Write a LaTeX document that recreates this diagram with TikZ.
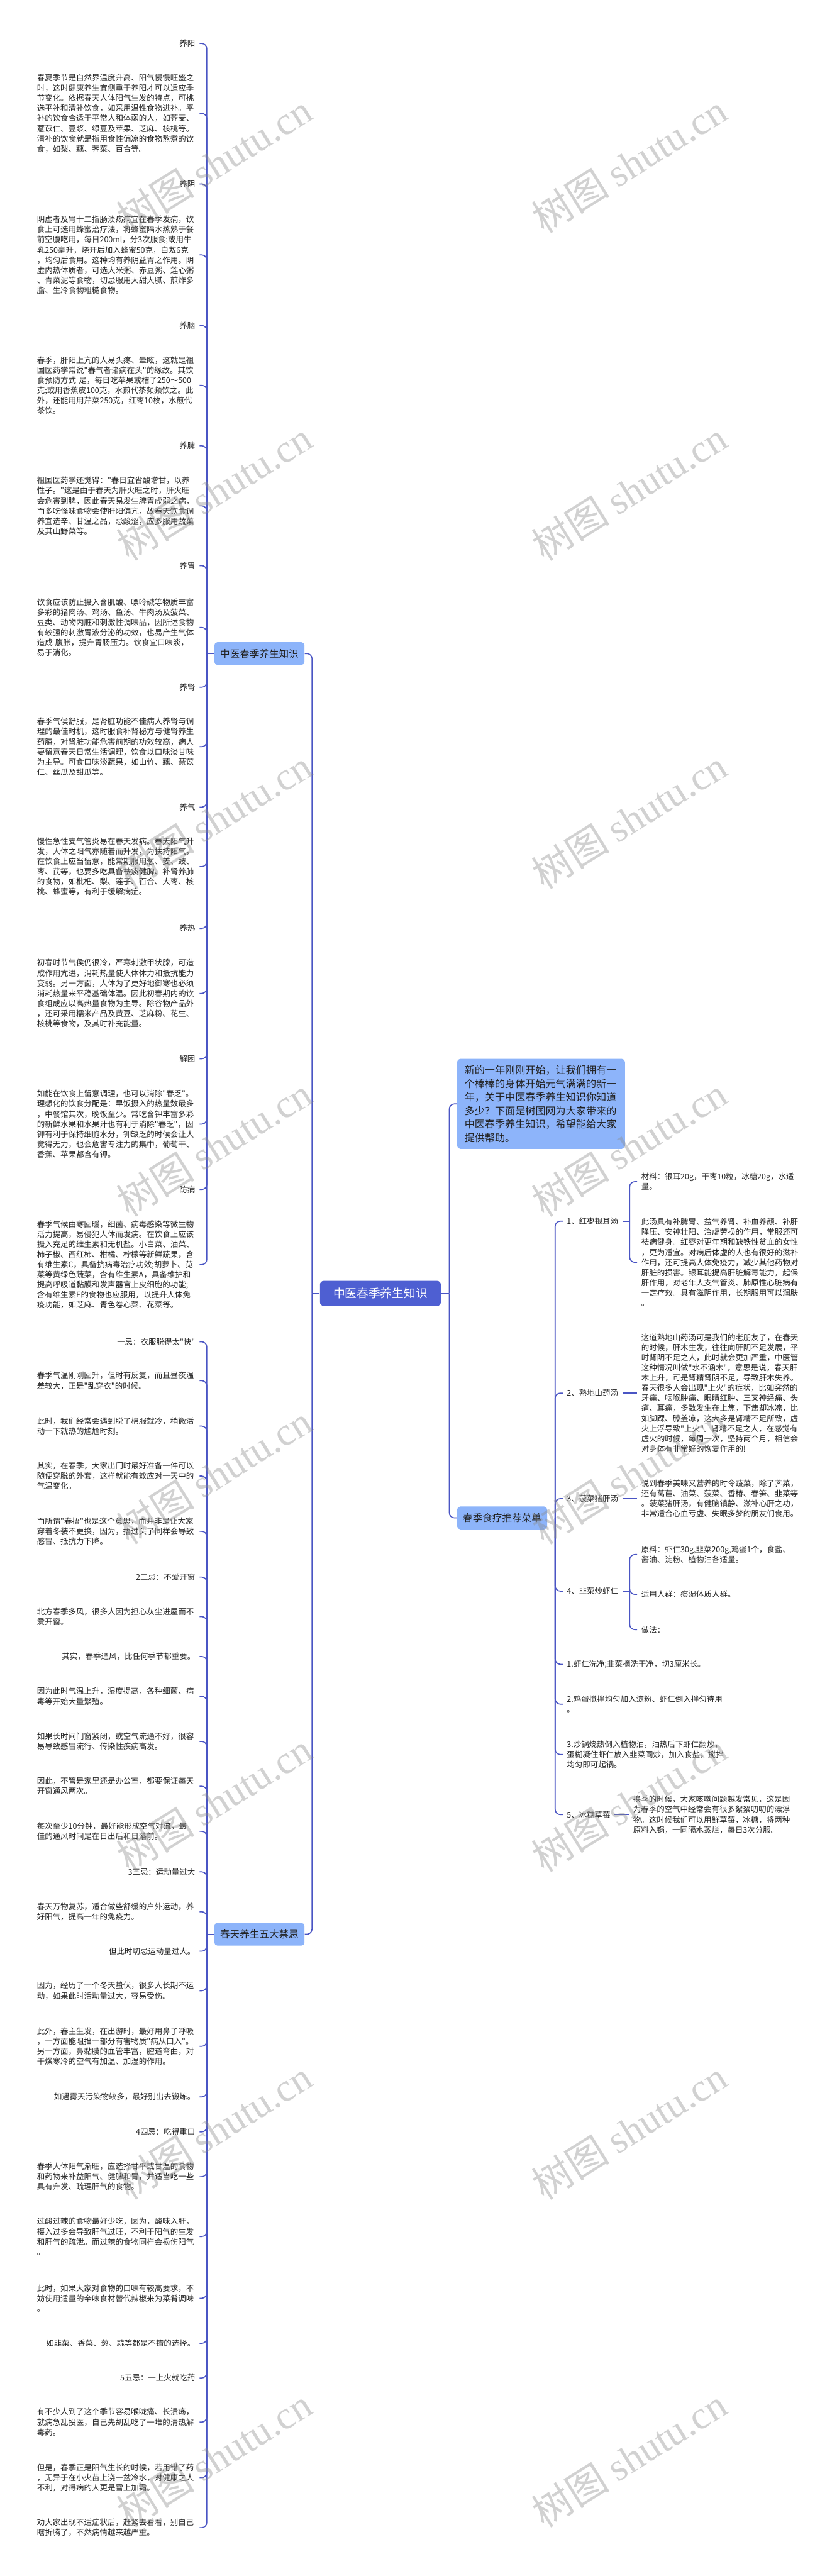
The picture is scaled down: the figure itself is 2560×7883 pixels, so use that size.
\documentclass[tikz,border=0pt]{standalone}
\usepackage{fontspec}
\newfontfamily\zhfont{Noto Sans CJK SC}
\newfontfamily\wmfont{Liberation Serif}
\definecolor{linec}{HTML}{4A55C4}
\definecolor{topicfill}{HTML}{8DB4FA}
\definecolor{rootfill}{HTML}{4E5FD2}
\definecolor{textc}{HTML}{222222}

\begin{document}
\begin{tikzpicture}[x=0.25pt,y=-0.25pt,
  link/.style={draw=linec,line width=0.8pt,rounded corners=4pt},
  rootbox/.style={rectangle,rounded corners=3pt,fill=rootfill,text=white,font=\zhfont\fontsize{9pt}{11pt}\selectfont,minimum width=92.5pt,minimum height=19.25pt,inner sep=0pt},
  topic/.style={rectangle,rounded corners=2.5pt,fill=topicfill,text=textc,font=\zhfont\fontsize{7.5pt}{9pt}\selectfont,minimum width=69pt,minimum height=17.5pt,inner sep=0pt},
  introbox/.style={rectangle,rounded corners=2.5pt,fill=topicfill,text=textc,font=\zhfont\fontsize{7.75pt}{10.35pt}\selectfont,text width=117pt,align=left,inner xsep=5.75pt,inner ysep=5pt},
  leaf/.style={anchor=east,text=textc,font=\zhfont\fontsize{6pt}{7.75pt}\selectfont,inner xsep=3.25pt,inner ysep=1pt},
  para/.style={leaf,text width=121pt,align=left},
  rleaf/.style={leaf,anchor=west,inner xsep=3pt},
  rpara/.style={rleaf,text width=121pt,align=left},
  wmark/.style={text=black!45,text opacity=0.4,font=\zhfont\fontsize{30pt}{30pt}\selectfont,rotate=32}]
\useasboundingbox (0,0) rectangle (2560,7883);
\fill[white] (0,0) rectangle (2560,7883);

% root and main topics
\node[rootbox,anchor=east] (root) at (1350,3958) {中医春季养生知识};
\node[topic,anchor=west] (g1) at (655,2000) {中医春季养生知识};
\node[topic,anchor=west] (g2) at (655,5919) {春天养生五大禁忌};
\node[introbox,anchor=west] (intro) at (1398,3378) {新的一年刚刚开始，让我们拥有一\\个棒棒的身体开始元气满满的新一\\年，关于中医春季养生知识你知道\\多少？下面是树图网为大家带来的\\中医春季养生知识，希望能给大家\\提供帮助。};
\node[topic,anchor=west] (diet) at (1398,4645) {春季食疗推荐菜单};
\coordinate (jL) at (955,3958);
\coordinate (jR) at (1375,3958);
\coordinate (j1) at (633,2000);
\coordinate (j2) at (633,5919);
\coordinate (jD) at (1699,4645);

% group 1
\node[leaf] (a1) at (611,133) {养阳};
\node[para] (a2) at (611,347) {春夏季节是自然界温度升高、阳气慢慢旺盛之\\时，这时健康养生宜侧重于养阳才可以适应季\\节变化。依据春天人体阳气生发的特点，可挑\\选平补和清补饮食，如采用温性食物进补。平\\补的饮食合适于平常人和体弱的人，如荞麦、\\薏苡仁、豆浆、绿豆及苹果、芝麻、核桃等。\\清补的饮食就是指用食性偏凉的食物熬煮的饮\\食，如梨、藕、荠菜、百合等。};
\node[leaf] (a3) at (611,563) {养阴};
\node[para] (a4) at (611,780) {阴虚者及胃十二指肠溃疡病宜在春季发病，饮\\食上可选用蜂蜜治疗法，将蜂蜜隔水蒸熟于餐\\前空腹吃用，每日200ml，分3次服食;或用牛\\乳250毫升，烧开后加入蜂蜜50克，白芨6克\\，均匀后食用。这种均有养阴益胃之作用。阴\\虚内热体质者，可选大米粥、赤豆粥、莲心粥\\、青菜泥等食物，切忌服用大甜大腻、煎炸多\\脂、生冷食物粗糙食物。};
\node[leaf] (a5) at (611,996) {养脑};
\node[para] (a6) at (611,1179) {春季，肝阳上亢的人易头疼、晕眩，这就是祖\\国医药学常说"春气者诸病在头"的缘故。其饮\\食预防方式 是，每日吃苹果或桔子250～500\\克;或用香蕉皮100克，水煎代茶频频饮之。此\\外，还能用用芹菜250克，红枣10枚，水煎代\\茶饮。};
\node[leaf] (a7) at (611,1364) {养脾};
\node[para] (a8) at (611,1548) {祖国医药学还觉得："春日宜省酸增甘，以养\\性子。"这是由于春天为肝火旺之时，肝火旺\\会危害到脾，因此春天易发生脾胃虚弱之病，\\而多吃怪味食物会使肝阳偏亢，故春天饮食调\\养宜选辛、甘温之品，忌酸涩，应多服用蔬菜\\及其山野菜等。};
\node[leaf] (a9) at (611,1731) {养胃};
\node[para] (a10) at (611,1920) {饮食应该防止摄入含肌酸、嘌呤碱等物质丰富\\多彩的猪肉汤、鸡汤、鱼汤、牛肉汤及菠菜、\\豆类、动物内脏和刺激性调味品，因所述食物\\有较强的刺激胃液分泌的功效，也易产生气体\\造成 腹胀，提升胃肠压力。饮食宜口味淡，\\易于消化。};
\node[leaf] (a11) at (611,2103) {养肾};
\node[para] (a12) at (611,2285) {春季气侯舒服，是肾脏功能不佳病人养肾与调\\理的最佳时机，这时服食补肾秘方与健肾养生\\药膳，对肾脏功能危害前期的功效较高，病人\\要留意春天日常生活调理，饮食以口味淡甘味\\为主导。可食口味淡蔬果，如山竹、藕、薏苡\\仁、丝瓜及甜瓜等。};
\node[leaf] (a13) at (611,2470) {养气};
\node[para] (a14) at (611,2652) {慢性急性支气管炎易在春天发病。春天阳气升\\发，人体之阳气亦随着而升发，为扶持阳气，\\在饮食上应当留意，能常期服用葱、姜、豉、\\枣、芪等，也要多吃具备祛痰健脾、补肾养肺\\的食物，如枇杷、梨、莲子、百合、大枣、核\\桃、蜂蜜等，有利于缓解病症。};
\node[leaf] (a15) at (611,2841) {养热};
\node[para] (a16) at (611,3040) {初春时节气侯仍很冷，严寒刺激甲状腺，可造\\成作用亢进，消耗热量使人体体力和抵抗能力\\变弱。另一方面，人体为了更好地御寒也必须\\消耗热量来平稳基础体温。因此初春期内的饮\\食组成应以高热量食物为主导。除谷物产品外\\，还可采用糯米产品及黄豆、芝麻粉、花生、\\核桃等食物，及其时补充能量。};
\node[leaf] (a17) at (611,3240) {解困};
\node[para] (a18) at (611,3440) {如能在饮食上留意调理，也可以消除"春乏"。\\理想化的饮食分配是：早饭摄入的热量数最多\\，中餐馆其次，晚饭至少。常吃含钾丰富多彩\\的新鲜水果和水果汁也有利于消除"春乏"，因\\钾有利于保持细胞水分，钾缺乏的时候会让人\\觉得无力，也会危害专注力的集中，葡萄干、\\香蕉、苹果都含有钾。};
\node[leaf] (a19) at (611,3640) {防病};
\node[para] (a20) at (611,3870) {春季气候由寒回暖，细菌、病毒感染等微生物\\活力提高，易侵犯人体而发病。在饮食上应该\\摄入充足的维生素和无机盐。小白菜、油菜、\\柿子椒、西红柿、柑橘、柠檬等新鲜蔬果，含\\有维生素C，具备抗病毒治疗功效;胡萝卜、苋\\菜等黄绿色蔬菜，含有维生素A，具备维护和\\提高呼吸道黏膜和发声器官上皮细胞的功能;\\含有维生素E的食物也应服用，以提升人体免\\疫功能，如芝麻、青色卷心菜、花菜等。};

% group 2
\node[leaf] (b1) at (611,4106) {一忌：衣服脱得太"快"};
\node[para] (b2) at (611,4225) {春季气温刚刚回升，但时有反复，而且昼夜温\\差较大，正是"乱穿衣"的时候。};
\node[para] (b3) at (611,4364) {此时，我们经常会遇到脱了棉服就冷，稍微活\\动一下就热的尴尬时刻。};
\node[para] (b4) at (611,4517) {其实，在春季，大家出门时最好准备一件可以\\随便穿脱的外套，这样就能有效应对一天中的\\气温变化。};
\node[para] (b5) at (611,4686) {而所谓"春捂"也是这个意思，而并非是让大家\\穿着冬装不更换，因为，捂过头了同样会导致\\感冒、抵抗力下降。};
\node[leaf] (b6) at (611,4826) {2二忌：不爱开窗};
\node[para] (b7) at (611,4947) {北方春季多风，很多人因为担心灰尘进屋而不\\爱开窗。};
\node[leaf] (b8) at (611,5069) {其实，春季通风，比任何季节都重要。};
\node[para] (b9) at (611,5191) {因为此时气温上升，湿度提高，各种细菌、病\\毒等开始大量繁殖。};
\node[para] (b10) at (611,5329) {如果长时间门窗紧闭，或空气流通不好，很容\\易导致感冒流行、传染性疾病高发。};
\node[para] (b11) at (611,5466) {因此，不管是家里还是办公室，都要保证每天\\开窗通风两次。};
\node[para] (b12) at (611,5604) {每次至少10分钟，最好能形成空气对流，最\\佳的通风时间是在日出后和日落前。};
\node[leaf] (b13) at (611,5728) {3三忌：运动量过大};
\node[para] (b14) at (611,5850) {春天万物复苏，适合做些舒缓的户外运动，养\\好阳气，提高一年的免疫力。};
\node[leaf] (b15) at (611,5971) {但此时切忌运动量过大。};
\node[para] (b16) at (611,6092) {因为，经历了一个冬天蛰伏，很多人长期不运\\动，如果此时活动量过大，容易受伤。};
\node[para] (b17) at (611,6262) {此外，春主生发，在出游时，最好用鼻子呼吸\\，一方面能阻挡一部分有害物质"病从口入"。\\另一方面，鼻黏膜的血管丰富，腔道弯曲，对\\干燥寒冷的空气有加温、加湿的作用。};
\node[leaf] (b18) at (611,6417) {如遇雾天污染物较多，最好别出去锻炼。};
\node[leaf] (b19) at (611,6524) {4四忌：吃得重口};
\node[para] (b20) at (611,6661) {春季人体阳气渐旺，应选择甘平或甘温的食物\\和药物来补益阳气、健脾和胃，并适当吃一些\\具有升发、疏理肝气的食物。};
\node[para] (b21) at (611,6844) {过酸过辣的食物最好少吃，因为，酸味入肝，\\摄入过多会导致肝气过旺，不利于阳气的生发\\和肝气的疏泄。而过辣的食物同样会损伤阳气\\。};
\node[para] (b22) at (611,7033) {此时，如果大家对食物的口味有较高要求，不\\妨使用适量的辛味食材替代辣椒来为菜肴调味\\。};
\node[leaf] (b23) at (611,7171) {如韭菜、香菜、葱、蒜等都是不错的选择。};
\node[leaf] (b24) at (611,7277) {5五忌：一上火就吃药};
\node[para] (b25) at (611,7412) {有不少人到了这个季节容易喉咙痛、长溃疡，\\就病急乱投医，自己先胡乱吃了一堆的清热解\\毒药。};
\node[para] (b26) at (611,7582) {但是，春季正是阳气生长的时候，若用错了药\\，无异于在小火苗上浇一盆冷水，对健康之人\\不利，对得病的人更是雪上加霜。};
\node[para] (b27) at (611,7735) {劝大家出现不适症状后，赶紧去看看，别自己\\瞎折腾了，不然病情越来越严重。};

% recipes
\node[rleaf] (d1) at (1722,3737) {1、红枣银耳汤};
\coordinate (jD1) at (1927,3737);
\node[rpara] (d1a) at (1950,3616) {材料：银耳20g，干枣10粒，冰糖20g，水适\\量。};
\node[rpara] (d1b) at (1950,3863) {此汤具有补脾胃、益气养肾、补血养颜、补肝\\降压、安神壮阳、治虚劳损的作用，常服还可\\祛病健身。红枣对更年期和缺铁性贫血的女性\\，更为适宜。对病后体虚的人也有很好的滋补\\作用，还可提高人体免疫力，减少其他药物对\\肝脏的损害。银耳能提高肝脏解毒能力，起保\\肝作用，对老年人支气管炎、肺原性心脏病有\\一定疗效。具有滋阴作用，长期服用可以润肤\\。};
\node[rleaf] (d2) at (1722,4263) {2、熟地山药汤};
\node[rpara] (d2a) at (1950,4263) {这道熟地山药汤可是我们的老朋友了，在春天\\的时候，肝木生发，往往向肝阴不足发展，平\\时肾阴不足之人，此时就会更加严重，中医管\\这种情况叫做"水不涵木"，意思是说，春天肝\\木上升，可是肾精肾阴不足，导致肝木失养。\\春天很多人会出现"上火"的症状，比如突然的\\牙痛、咽喉肿痛、眼睛红肿、三叉神经痛、头\\痛、耳痛，多数发生在上焦，下焦却冰凉，比\\如脚踝、膝盖凉，这大多是肾精不足所致，虚\\火上浮导致"上火"。肾精不足之人，在感觉有\\虚火的时候，每周一次，坚持两个月，相信会\\对身体有非常好的恢复作用的!};
\node[rleaf] (d3) at (1722,4586) {3、菠菜猪肝汤};
\node[rpara] (d3a) at (1950,4586) {说到春季美味又营养的时令蔬菜，除了荠菜，\\还有莴苣、油菜、菠菜、香椿、春笋、韭菜等\\。菠菜猪肝汤，有健脑镇静、滋补心肝之功，\\非常适合心血亏虚、失眠多梦的朋友们食用。};
\node[rleaf] (d4) at (1722,4869) {4、韭菜炒虾仁};
\coordinate (jD4) at (1927,4869);
\node[rpara] (d4a) at (1950,4757) {原料：虾仁30g,韭菜200g,鸡蛋1个，食盐、\\酱油、淀粉、植物油各适量。};
\node[rleaf] (d4b) at (1950,4879) {适用人群：痰湿体质人群。};
\node[rleaf] (d4c) at (1950,4987) {做法：};
\node[rleaf] (d5) at (1722,5093) {1.虾仁洗净;韭菜摘洗干净，切3厘米长。};
\node[rpara] (d6) at (1722,5215) {2.鸡蛋搅拌均匀加入淀粉、虾仁倒入拌匀待用\\。};
\node[rpara] (d7) at (1722,5369) {3.炒锅烧热倒入植物油，油热后下虾仁翻炒，\\蛋糊凝住虾仁放入韭菜同炒，加入食盐，搅拌\\均匀即可起锅。};
\node[rleaf] (d8) at (1722,5553) {5、冰糖草莓};
\node[rpara] (d8a) at (1925,5553) {换季的时候，大家咳嗽问题越发常见，这是因\\为春季的空气中经常会有很多絮絮叨叨的漂浮\\物。这时候我们可以用鲜草莓，冰糖，将两种\\原料入锅，一同隔水蒸烂，每日3次分服。};

% connectors
\draw[link] (root.west) -- (jL);
\draw[link] (jL) |- (g1.east);
\draw[link] (jL) |- (g2.east);
\draw[link] (root.east) -- (jR);
\draw[link] (jR) |- (intro.west);
\draw[link] (jR) |- (diet.west);
\draw[link] (g1.west) -- (j1);
\foreach \i in {1,...,20} \draw[link] (j1) |- (a\i.east);
\draw[link] (g2.west) -- (j2);
\foreach \i in {1,...,27} \draw[link] (j2) |- (b\i.east);
\draw[link] (diet.east) -- (jD);
\foreach \c in {d1,d2,d3,d4,d5,d6,d7,d8} \draw[link] (jD) |- (\c.west);
\draw[link] (d1.east) -- (jD1);
\draw[link] (jD1) |- (d1a.west);
\draw[link] (jD1) |- (d1b.west);
\draw[link] (d2.east) -- (d2a.west);
\draw[link] (d3.east) -- (d3a.west);
\draw[link] (d4.east) -- (jD4);
\draw[link] (jD4) |- (d4a.west);
\draw[link] (jD4) |- (d4b.west);
\draw[link] (jD4) |- (d4c.west);
\draw[link] (d8.east) -- (d8a.west);

% watermark
\foreach \r in {0,...,7} {
  \node[wmark] (wmL\r) at (655,501+1003*\r) {树图 {\wmfont shutu.cn}};
  \node[wmark] (wmR\r) at (1925,501+1003*\r) {树图 {\wmfont shutu.cn}};
}
\end{tikzpicture}
\end{document}
